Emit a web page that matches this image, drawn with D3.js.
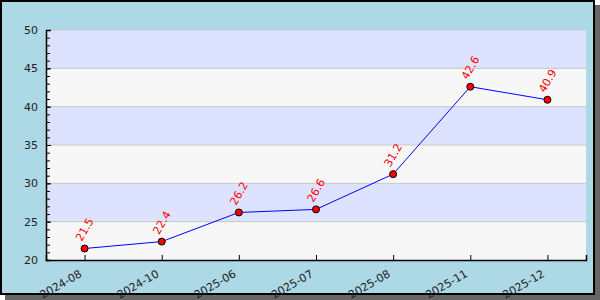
<!DOCTYPE html>
<html>
<head>
<meta charset="utf-8">
<script src="https://cdn.jsdelivr.net/npm/d3@7"></script>
<style>
  body { margin: 0; background: #fff; }
  svg { display: block; font-family: "DejaVu Sans", sans-serif; }
</style>
</head>
<body>
<svg id="chart" width="600" height="300"></svg>
<script>
/****** Chart data *******/
const months = ["2024-08", "2024-10", "2025-06", "2025-07", "2025-08", "2025-11", "2025-12"];
const values = [21.5, 22.4, 26.2, 26.6, 31.2, 42.6, 40.9];
const yTicks = [20, 25, 30, 35, 40, 45, 50];

/** Frame sizes **/
var svgWidth = 600, svgHeight = 300;
var margin = {top: 30, right: 14, bottom: 40, left: 46};
var width = 586 - margin.left;
var height = 260 - margin.top;

var svg = d3.select("#chart");

// drop shadow + frame
svg.append("rect")
    .attr("x", 5).attr("y", 5)
    .attr("width", 595).attr("height", 295)
    .attr("fill", "#666");
svg.append("rect")
    .attr("x", 1).attr("y", 1)
    .attr("width", 593).attr("height", 293)
    .attr("fill", "#add8e6")
    .attr("stroke", "#000")
    .attr("stroke-width", 2);

var g = svg.append("g")
    .attr("transform", "translate(" + margin.left + "," + margin.top + ")");

var x = d3.scalePoint()
    .domain(months)
    .range([0, width])
    .padding(0.5);

var y = d3.scaleLinear()
    .domain([20, 50])
    .range([height, 0]);

// alternating bands
var bands = d3.pairs(yTicks);
g.selectAll(".band")
    .data(bands)
    .enter().append("rect")
    .attr("x", 0)
    .attr("width", width)
    .attr("y", function (d) { return y(d[1]); })
    .attr("height", function (d) { return y(d[0]) - y(d[1]); })
    .attr("fill", function (d, i) { return i % 2 === 0 ? "#f7f7f7" : "#dde3ff"; });

// grid lines
g.selectAll(".grid")
    .data(yTicks.slice(1))
    .enter().append("line")
    .attr("x1", 0).attr("x2", width)
    .attr("y1", function (d) { return y(d); })
    .attr("y2", function (d) { return y(d); })
    .attr("stroke", "#c8c8c8")
    .attr("stroke-width", 1);

// y axis: minor ticks then major ticks (inward)
var yAxisMinor = d3.axisRight(y)
    .tickValues(d3.range(20, 51, 1))
    .tickSize(4)
    .tickFormat("");
g.append("g")
    .attr("class", "y-minor")
    .call(yAxisMinor);

var yAxis = d3.axisRight(y)
    .tickValues(yTicks)
    .tickSize(5)
    .tickPadding(-31);
g.append("g")
    .attr("class", "y-axis")
    .call(yAxis);

// x axis (ticks inward)
var xAxis = d3.axisTop(x)
    .tickSize(5)
    .tickFormat("");
g.append("g")
    .attr("class", "x-axis")
    .attr("transform", "translate(0," + height + ")")
    .call(xAxis);

g.selectAll(".x-label")
    .data(months)
    .enter().append("text")
    .attr("class", "x-label")
    .attr("transform", function (d) {
        return "translate(" + (x(d) - 2) + "," + (height + 16) + ") rotate(-30)";
    })
    .attr("text-anchor", "end")
    .attr("font-size", 11)
    .attr("fill", "#222")
    .text(function (d) { return d; });

g.selectAll(".domain").attr("stroke", "#000").attr("stroke-width", 1.5);
g.selectAll(".tick line").attr("stroke", "#000");
g.select(".y-minor .domain").remove();
g.selectAll(".y-axis .tick text")
    .attr("text-anchor", "end")
    .attr("x", -8)
    .attr("font-size", 11)
    .attr("font-family", "DejaVu Sans")
    .attr("fill", "#222");

// line
var line = d3.line()
    .x(function (d, i) { return x(months[i]); })
    .y(function (d) { return y(d); });

g.append("path")
    .datum(values)
    .attr("fill", "none")
    .attr("stroke", "#0000ff")
    .attr("stroke-width", 1)
    .attr("d", line);

// markers
g.selectAll(".dot")
    .data(values)
    .enter().append("circle")
    .attr("cx", function (d, i) { return x(months[i]); })
    .attr("cy", function (d) { return y(d); })
    .attr("r", 3.5)
    .attr("fill", "#ff0000")
    .attr("stroke", "#000")
    .attr("stroke-width", 1);

// value labels
g.selectAll(".val")
    .data(values)
    .enter().append("text")
    .attr("transform", function (d, i) {
        return "translate(" + x(months[i]) + "," + (y(d) - 19) + ") rotate(-60)";
    })
    .attr("text-anchor", "middle")
    .attr("dy", "0.35em")
    .attr("font-size", 11)
    .attr("fill", "#ff0000")
    .text(function (d) { return d; });
</script>
</body>
</html>
